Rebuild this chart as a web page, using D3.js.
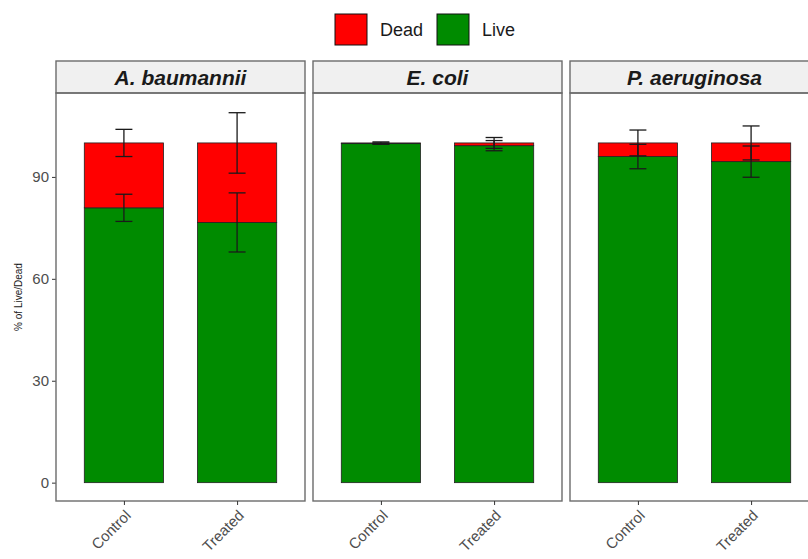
<!DOCTYPE html>
<html>
  <head>
    <meta charset="utf-8" />
    <title>Live/Dead stacked bars</title>
    <style>
      body {
        margin: 0;
        background: white;
      }
      text {
        font-family: "Liberation Sans", Arial, sans-serif;
      }
    </style>
  </head>
  <body>
    <svg class="canvas"></svg>
    <script src="https://cdn.jsdelivr.net/npm/d3@7"></script>
    <script>
      // data
      const species = ["A. baumannii", "E. coli", "P. aeruginosa"];
      const groups = ["Control", "Treated"];
      const live = [
        [80.9, 76.6],
        [99.8, 99.2],
        [96.0, 94.5],
      ];
      const dead = [
        [19.1, 23.4],
        [0.2, 0.8],
        [4.0, 5.5],
      ];
      const liveSd = [
        [4.0, 8.7],
        [0.2, 1.5],
        [3.6, 4.6],
      ];
      const deadSd = [
        [4.0, 8.9],
        [0.3, 1.6],
        [3.8, 5.0],
      ];
      const yTicks = [0, 30, 60, 90];
      const legendKeys = ["Dead", "Live"];
      const colors = { Dead: "#ff0000", Live: "#008b00" };

      const width = 808,
        height = 559;
      const panelW = 249,
        panelGap = 8,
        panelLeft = 56;
      const stripTop = 61,
        stripH = 32,
        panelTop = stripTop + stripH,
        panelBottom = 501;

      const svg = d3
        .select(".canvas")
        .attr("width", width)
        .attr("height", height);

      const y = d3
        .scaleLinear()
        .domain([-5.4, 114.7])
        .range([panelBottom, panelTop]);

      //---------------legend----------------
      const legend = svg.append("g");
      const legendX = [335, 437];
      legendKeys.forEach((k, i) => {
        legend
          .append("rect")
          .attr("x", legendX[i])
          .attr("y", 14)
          .attr("width", 32)
          .attr("height", 31)
          .attr("fill", colors[k])
          .attr("stroke", "#111")
          .attr("stroke-width", 1);
        legend
          .append("text")
          .attr("x", legendX[i] + 45)
          .attr("y", 36)
          .attr("font-size", 18)
          .attr("fill", "#1a1a1a")
          .text(k);
      });

      //---------------y axis----------------
      const yAxis = svg
        .append("g")
        .attr("transform", `translate(${panelLeft},0)`)
        .call(d3.axisLeft(y).tickValues(yTicks).tickSize(4).tickPadding(3));
      yAxis.select(".domain").remove();
      yAxis.selectAll("line").attr("stroke", "#333");
      yAxis
        .selectAll("text")
        .attr("font-size", 15)
        .attr("fill", "#4d4d4d")
        .style("font-family", "'Liberation Sans', Arial, sans-serif");

      svg
        .append("text")
        .attr("transform", `translate(22,${(panelTop + panelBottom) / 2}) rotate(-90)`)
        .attr("text-anchor", "middle")
        .attr("font-size", 10)
        .attr("fill", "#1a1a1a")
        .text("% of Live/Dead");

      //---------------panels----------------
      species.forEach((sp, s) => {
        const x0 = panelLeft + s * (panelW + panelGap);
        const x = d3
          .scalePoint()
          .domain(groups)
          .range([x0 + panelW * (0.6 / 2.2), x0 + panelW * (1.6 / 2.2)]);
        const unit = panelW / 2.2;
        const barW = unit * 0.7;
        const capW = unit * 0.15;
        const g = svg.append("g");

        // strip
        g.append("rect")
          .attr("x", x0)
          .attr("y", stripTop)
          .attr("width", panelW)
          .attr("height", stripH)
          .attr("fill", "#f0f0f0")
          .attr("stroke", "#6b6b6b")
          .attr("stroke-width", 1.4);
        g.append("text")
          .attr("x", x0 + panelW / 2)
          .attr("y", stripTop + 24)
          .attr("text-anchor", "middle")
          .attr("font-size", 21)
          .attr("font-style", "italic")
          .attr("font-weight", "bold")
          .attr("fill", "#1a1a1a")
          .text(sp);

        // bars
        groups.forEach((grp, j) => {
          const cx = x(grp);
          g.append("rect")
            .attr("x", cx - barW / 2)
            .attr("y", y(live[s][j]))
            .attr("width", barW)
            .attr("height", y(0) - y(live[s][j]))
            .attr("fill", colors.Live)
            .attr("stroke", "#222")
            .attr("stroke-width", 0.8);
          g.append("rect")
            .attr("x", cx - barW / 2)
            .attr("y", y(live[s][j] + dead[s][j]))
            .attr("width", barW)
            .attr("height", y(live[s][j]) - y(live[s][j] + dead[s][j]))
            .attr("fill", colors.Dead)
            .attr("stroke", "#222")
            .attr("stroke-width", 0.8);
        });

        // error bars
        groups.forEach((grp, j) => {
          const cx = x(grp);
          const bars = [
            [live[s][j], liveSd[s][j]],
            [live[s][j] + dead[s][j], deadSd[s][j]],
          ];
          bars.forEach(([m, sd]) => {
            const eg = g
              .append("g")
              .attr("stroke", "#1a1a1a")
              .attr("stroke-width", 1.3);
            eg.append("line")
              .attr("x1", cx)
              .attr("x2", cx)
              .attr("y1", y(m - sd))
              .attr("y2", y(m + sd));
            [m - sd, m + sd].forEach((v) => {
              eg.append("line")
                .attr("x1", cx - capW / 2)
                .attr("x2", cx + capW / 2)
                .attr("y1", y(v))
                .attr("y2", y(v));
            });
          });
        });

        // panel border
        g.append("rect")
          .attr("x", x0)
          .attr("y", panelTop)
          .attr("width", panelW)
          .attr("height", panelBottom - panelTop)
          .attr("fill", "none")
          .attr("stroke", "#6b6b6b")
          .attr("stroke-width", 1.4);

        // x axis
        const xAxis = g
          .append("g")
          .attr("transform", `translate(0,${panelBottom})`)
          .call(d3.axisBottom(x).tickSize(4).tickPadding(2));
        xAxis.select(".domain").remove();
        xAxis.selectAll("line").attr("stroke", "#333");
        xAxis
          .selectAll("text")
          .attr("font-size", 15)
          .attr("fill", "#4d4d4d")
          .style("font-family", "'Liberation Sans', Arial, sans-serif")
          .attr("text-anchor", "end")
          .attr("y", 0)
          .attr("dy", "0.7em")
          .attr("transform", "translate(0,8) rotate(-45)");
      });
    </script>
  </body>
</html>
